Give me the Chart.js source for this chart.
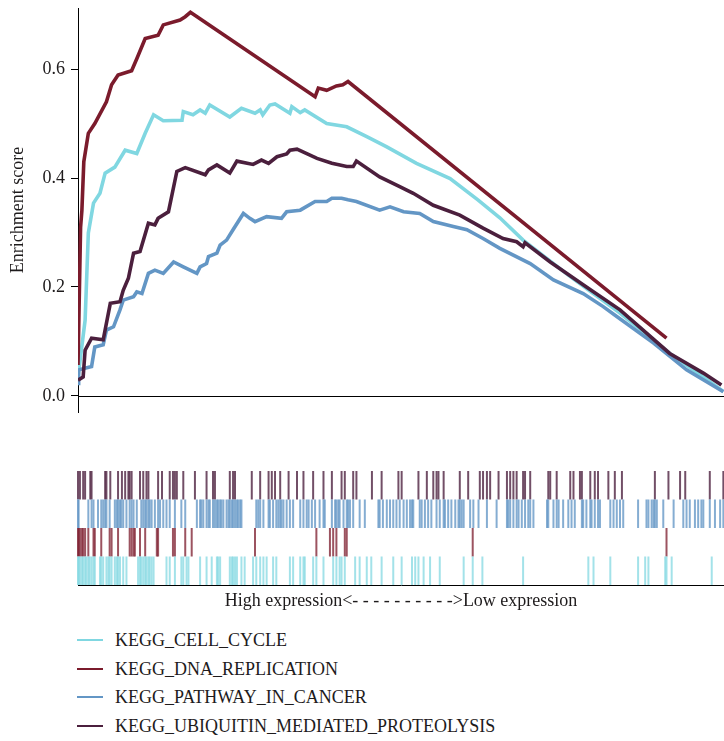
<!DOCTYPE html>
<html>
<head>
<meta charset="utf-8">
<script src="https://cdn.jsdelivr.net/npm/chart.js@4.4.1/dist/chart.umd.min.js"></script>
<style>
  body { margin: 0; background: #fff; }
  #wrap { position: relative; width: 724px; height: 741px; background: #fff; }
  canvas { position: absolute; left: 0; }
  #es { top: 0; }
  #hits { top: 460px; }
  .leg { position: absolute; left: 77px; font-family: "Liberation Serif", "Times New Roman", Tinos, "DejaVu Serif", "Noto Serif", FreeSerif, serif; font-size: 18px; color: #1e1b1c; }
  .leg span.ln { position: absolute; left: 0; top: -1px; width: 26px; height: 2px; }
  .leg span.tx { position: absolute; left: 38px; white-space: nowrap; line-height: 20px; top: -10px; }
</style>
</head>
<body>
<div id="wrap">
  <canvas id="es" width="724" height="415"></canvas>
  <canvas id="hits" width="724" height="152"></canvas>
</div>
<script>
const setNames = ['KEGG_CELL_CYCLE', 'KEGG_DNA_REPLICATION', 'KEGG_PATHWAY_IN_CANCER', 'KEGG_UBIQUITIN_MEDIATED_PROTEOLYSIS'];
const setColors = ['#80d7e1', '#7b1b2c', '#6396c5', '#4b1f3d'];
const yTicks = [0, 0.2, 0.4, 0.6];

// running enrichment score, gene rank (0-1000) vs ES
const ccRank = [0, 11, 16, 24, 34, 42, 57, 73, 91, 104, 117, 132, 161, 163, 178, 189, 197, 204, 235, 253, 274, 282, 286, 297, 305, 328, 331, 344, 351, 385, 416, 447, 478, 524, 576, 619, 653, 689, 762, 839, 916, 968, 999];
const ccES = [0.035, 0.139, 0.299, 0.354, 0.372, 0.409, 0.42, 0.451, 0.445, 0.482, 0.516, 0.505, 0.506, 0.522, 0.516, 0.525, 0.519, 0.534, 0.512, 0.528, 0.519, 0.525, 0.516, 0.534, 0.536, 0.519, 0.531, 0.52, 0.525, 0.50, 0.494, 0.476, 0.457, 0.427, 0.399, 0.36, 0.327, 0.286, 0.219, 0.152, 0.078, 0.035, 0.008];

const dnaRank = [0, 4, 6, 9, 16, 26, 44, 52, 62, 83, 91, 104, 124, 132, 158, 166, 174, 367, 372, 385, 400, 410, 418, 911];
const dnaES = [0.057, 0.31, 0.34, 0.43, 0.482, 0.50, 0.54, 0.571, 0.589, 0.597, 0.619, 0.656, 0.662, 0.681, 0.69, 0.696, 0.704, 0.549, 0.565, 0.561, 0.569, 0.571, 0.577, 0.106];

const pwRank = [0, 1, 21, 26, 39, 44, 55, 65, 70, 86, 91, 99, 109, 119, 132, 148, 163, 184, 189, 199, 202, 215, 220, 230, 240, 256, 266, 274, 292, 315, 323, 344, 367, 385, 393, 408, 418, 431, 467, 483, 504, 529, 550, 581, 602, 627, 653, 700, 736, 782, 813, 834, 891, 942, 999];
const pwES = [0.023, 0.048, 0.054, 0.09, 0.094, 0.121, 0.127, 0.158, 0.176, 0.182, 0.191, 0.188, 0.225, 0.231, 0.225, 0.246, 0.237, 0.225, 0.237, 0.243, 0.256, 0.262, 0.277, 0.286, 0.305, 0.335, 0.326, 0.32, 0.329, 0.326, 0.338, 0.341, 0.357, 0.357, 0.363, 0.363, 0.36, 0.357, 0.341, 0.347, 0.338, 0.335, 0.32, 0.311, 0.305, 0.289, 0.271, 0.243, 0.213, 0.188, 0.164, 0.146, 0.097, 0.048, 0.008];

const ubRank = [0, 8, 11, 21, 39, 50, 65, 70, 78, 86, 96, 109, 119, 124, 140, 153, 166, 197, 202, 215, 235, 246, 271, 284, 295, 308, 323, 328, 339, 370, 393, 416, 426, 431, 467, 498, 519, 550, 591, 627, 658, 679, 689, 692, 731, 787, 839, 916, 968, 996];
const ubES = [0.029, 0.035, 0.084, 0.106, 0.103, 0.17, 0.173, 0.194, 0.216, 0.262, 0.265, 0.317, 0.314, 0.326, 0.338, 0.412, 0.419, 0.406, 0.415, 0.424, 0.409, 0.431, 0.425, 0.433, 0.427, 0.439, 0.444, 0.451, 0.453, 0.436, 0.427, 0.421, 0.421, 0.431, 0.402, 0.384, 0.372, 0.35, 0.332, 0.308, 0.289, 0.283, 0.274, 0.281, 0.246, 0.2, 0.158, 0.078, 0.042, 0.02];

// hit positions (gene rank) for the barcode rows
const ccHits = [0, 1, 3, 6, 8, 11, 13, 16, 18, 21, 24, 26, 34, 36, 39, 44, 47, 49, 52, 57, 60, 62, 65, 70, 75, 93, 96, 98, 101, 104, 106, 109, 111, 114, 117, 137, 142, 150, 160, 163, 168, 171, 189, 199, 207, 215, 217, 220, 235, 238, 240, 243, 246, 253, 258, 271, 276, 282, 287, 292, 302, 307, 328, 333, 344, 349, 351, 364, 369, 380, 395, 400, 405, 408, 413, 429, 436, 447, 454, 470, 488, 501, 517, 522, 527, 535, 545, 560, 597, 611, 626, 689, 790, 798, 824, 867, 878, 883, 909, 911, 919, 981];
const dnaHits = [0, 1, 3, 6, 8, 11, 16, 24, 26, 36, 49, 52, 62, 80, 83, 86, 88, 96, 104, 122, 124, 147, 150, 166, 176, 274, 369, 390, 395, 400, 413, 416, 611, 911];
const pwHits = [0, 1, 16, 21, 24, 31, 36, 39, 42, 44, 49, 57, 60, 62, 65, 67, 70, 75, 80, 83, 86, 91, 98, 101, 104, 106, 109, 111, 114, 119, 124, 127, 132, 137, 142, 150, 160, 166, 184, 189, 191, 194, 199, 202, 204, 209, 212, 215, 217, 220, 222, 225, 230, 233, 235, 238, 240, 243, 246, 248, 251, 253, 276, 279, 282, 287, 295, 297, 302, 307, 310, 313, 315, 318, 323, 328, 333, 344, 349, 354, 357, 362, 367, 374, 380, 382, 393, 398, 400, 403, 405, 411, 416, 418, 421, 426, 436, 444, 465, 467, 472, 478, 483, 488, 493, 498, 504, 509, 514, 517, 519, 529, 532, 537, 542, 547, 555, 560, 566, 568, 573, 578, 584, 589, 591, 594, 597, 607, 612, 620, 633, 648, 664, 666, 669, 674, 679, 682, 687, 692, 697, 700, 705, 726, 728, 736, 741, 744, 751, 759, 764, 769, 780, 782, 787, 793, 795, 800, 805, 808, 824, 829, 834, 839, 844, 867, 880, 883, 888, 891, 893, 896, 906, 922, 937, 942, 947, 955, 960, 965, 968, 978, 986, 994, 999];
const ubHits = [0, 3, 8, 11, 19, 21, 42, 44, 50, 62, 68, 73, 78, 80, 83, 96, 101, 106, 109, 124, 130, 142, 147, 150, 153, 163, 181, 199, 209, 212, 235, 240, 243, 269, 282, 295, 300, 305, 313, 326, 339, 349, 364, 380, 393, 408, 413, 426, 431, 455, 470, 496, 501, 527, 540, 550, 555, 558, 566, 591, 604, 622, 627, 633, 638, 651, 664, 669, 674, 679, 689, 692, 700, 728, 731, 741, 762, 767, 777, 780, 793, 800, 805, 821, 831, 842, 893, 914, 932, 940, 978, 999];

const serif = '"Liberation Serif", "Times New Roman", Tinos, "DejaVu Serif", "Noto Serif", FreeSerif, serif';
const txtColor = '#1e1b1c';

const curves = [[ccRank, ccES], [dnaRank, dnaES], [pwRank, pwES], [ubRank, ubES]];

const zeroLine = {
  id: 'zeroLine',
  beforeDatasetsDraw(chart) {
    const { ctx, chartArea } = chart;
    const y = Math.round(chart.scales.y.getPixelForValue(0)) + 0.5;
    ctx.save();
    ctx.strokeStyle = '#000';
    ctx.lineWidth = 1;
    ctx.beginPath();
    ctx.moveTo(chartArea.left, y);
    ctx.lineTo(chartArea.right, y);
    ctx.stroke();
    ctx.restore();
  },
};

new Chart(document.getElementById('es'), {
  type: 'line',
  data: {
    datasets: curves.map((c, i) => ({
      label: setNames[i],
      data: c[0].map((r, j) => ({ x: r, y: c[1][j] })),
      borderColor: setColors[i],
      borderWidth: 3.6,
      pointRadius: 0,
      tension: 0,
      order: i === 1 ? 0 : 4 - i,
    })),
  },
  options: {
    responsive: false,
    animation: false,
    events: [],
    layout: { autoPadding: false, padding: { top: 8, right: 0, bottom: 3, left: 0 } },
    scales: {
      x: { type: 'linear', min: 0, max: 1000, display: false },
      y: {
        min: -0.0294,
        max: 0.712,
        afterBuildTicks: (s) => { s.ticks = yTicks.map((v) => ({ value: v })); },
        afterFit: (s) => { s.width = 78; s.paddingTop = 0; s.paddingBottom = 0; },
        ticks: {
          callback: (v) => v.toFixed(1),
          font: { family: serif, size: 18 },
          color: txtColor,
          padding: 6,
        },
        grid: { drawOnChartArea: false, tickLength: 7, color: '#000' },
        border: { color: '#000', width: 1 },
        title: {
          display: true,
          text: 'Enrichment score',
          font: { family: serif, size: 18 },
          color: txtColor,
          padding: { top: 7, bottom: 0 },
        },
      },
    },
    plugins: { legend: { display: false }, tooltip: { enabled: false } },
  },
  plugins: [zeroLine],
});

// barcode rows, top to bottom: ubiquitin, pathway, dna, cell cycle
const rows = [[ccHits, 0.5, 0], [dnaHits, 1.5, 1], [pwHits, 2.5, 2], [ubHits, 3.5, 3]];
const hitAlpha = ['b8', 'c0', 'c8', 'c8'];

new Chart(document.getElementById('hits'), {
  type: 'scatter',
  data: {
    datasets: rows.map((r) => ({
      label: setNames[r[2]],
      data: r[0].map((h) => ({ x: h, y: r[1] })),
      pointStyle: 'line',
      pointRotation: 90,
      pointRadius: 14.25,
      pointBorderWidth: 2,
      borderColor: setColors[r[2]] + hitAlpha[r[2]],
      clip: false,
    })),
  },
  options: {
    responsive: false,
    animation: false,
    events: [],
    layout: { autoPadding: false, padding: { top: 11, right: 0, bottom: 0, left: 78 } },
    scales: {
      x: {
        type: 'linear',
        min: 0,
        max: 1000,
        grid: { display: false },
        ticks: { display: false },
        border: { display: true, color: '#000', width: 1 },
        afterFit: (s) => { s.height = 27; },
        title: {
          display: true,
          text: 'High expression<- - - - - - - - - ->Low expression',
          font: { family: serif, size: 18 },
          color: txtColor,
          padding: { top: 0, bottom: 0 },
        },
      },
      y: { display: false, min: 0, max: 4 },
    },
    plugins: { legend: { display: false }, tooltip: { enabled: false } },
  },
});

// legend
const wrap = document.getElementById('wrap');
setNames.forEach((name, i) => {
  const item = document.createElement('div');
  item.className = 'leg';
  item.style.top = Math.round(640 + i * 28.7) + 'px';
  const ln = document.createElement('span');
  ln.className = 'ln';
  ln.style.background = setColors[i];
  const tx = document.createElement('span');
  tx.className = 'tx';
  tx.textContent = name;
  item.appendChild(ln);
  item.appendChild(tx);
  wrap.appendChild(item);
});
</script>
</body>
</html>
